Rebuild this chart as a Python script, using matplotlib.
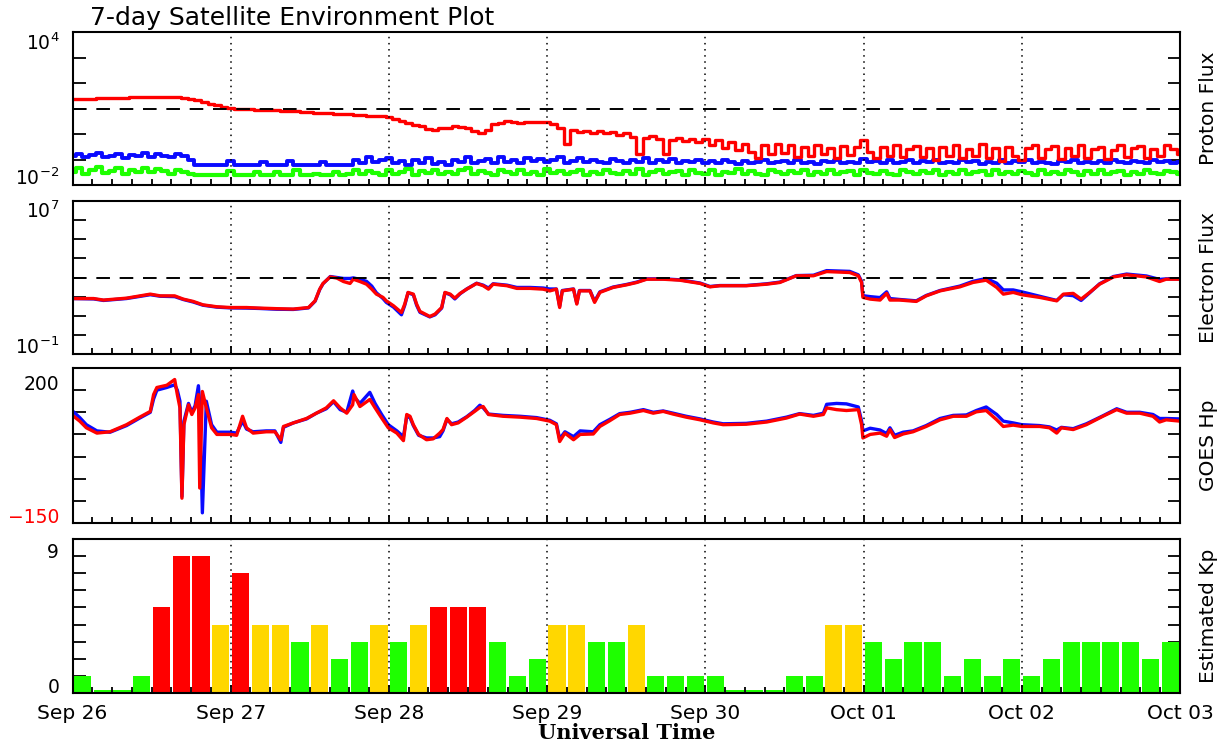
import numpy as np
import matplotlib
matplotlib.use("Agg")
import matplotlib.pyplot as plt
from matplotlib.ticker import MultipleLocator, FixedLocator, NullLocator

# ------------------------------------------------------------------
# data (hours since Sep 26 00 UT)
# ------------------------------------------------------------------
day_labels = ["Sep 26", "Sep 27", "Sep 28", "Sep 29", "Sep 30",
              "Oct 01", "Oct 02", "Oct 03"]

# proton flux, log10(pfu), hourly
p_red_log = [1.36, 1.37, 1.38, 1.38, 1.40, 1.41, 1.42, 1.41, 1.43, 1.44, 1.45, 1.44,
             1.46, 1.47, 1.45, 1.46, 1.44, 1.42, 1.38, 1.33, 1.25, 1.18, 1.12, 1.06,
             1.02, 1.00, 0.99, 0.97, 0.96, 0.95, 0.93, 0.94, 0.91, 0.90, 0.89, 0.87,
             0.86, 0.84, 0.83, 0.82, 0.80, 0.79, 0.77, 0.76, 0.74, 0.72, 0.71, 0.70,
             0.68, 0.58, 0.50, 0.44, 0.36, 0.30, 0.20, 0.16, 0.22, 0.25, 0.30, 0.28,
             0.22, 0.12, 0.05, 0.15, 0.38, 0.45, 0.50, 0.46, 0.44, 0.48, 0.46, 0.49,
             0.47, 0.40, 0.22, -0.40, 0.15, 0.08, 0.12, 0.05, 0.10, 0.02, 0.08, -0.02,
             0.05, -0.10, -0.80, -0.15, -0.08, -0.20, -0.80, -0.22, -0.15, -0.28, -0.20, -0.30,
             -0.18, -0.45, -0.25, -0.55, -0.30, -0.62, -0.40, -0.70, -0.95, -0.45, -0.78, -0.40,
             -0.75, -0.45, -0.90, -0.50, -0.85, -0.42, -0.80, -0.55, -0.95, -0.48, -0.82, -0.52,
             -0.25, -0.70, -0.95, -0.50, -0.88, -0.45, -0.92, -0.60, -0.48, -0.90, -0.55, -1.00,
             -0.50, -0.85, -0.45, -0.95, -0.58, -0.88, -0.40, -0.95, -0.55, -1.05, -0.50, -0.85,
             -1.00, -0.55, -0.45, -0.95, -0.60, -0.48, -0.98, -0.55, -0.88, -0.45, -0.95, -0.60,
             -0.50, -0.98, -0.62, -0.45, -0.92, -0.55, -0.48, -0.95, -0.58, -0.85, -0.45, -0.60,
             -0.80]
p_blue_log = [-0.88, -0.78, -0.92, -0.82, -0.75, -0.90, -0.85, -0.78, -0.95, -0.82, -0.88, -0.76,
              -0.90, -0.80, -0.86, -0.92, -0.78, -0.88, -1.00, -1.22, -1.22, -1.20, -1.22, -1.22,
              -1.05, -1.22, -1.22, -1.20, -1.22, -1.08, -1.22, -1.22, -1.22, -1.05, -1.22, -1.20,
              -1.22, -1.22, -1.10, -1.22, -1.22, -1.20, -1.22, -1.00, -1.15, -0.92, -1.10, -1.02,
              -0.95, -1.12, -1.05, -1.20, -1.00, -1.15, -0.95, -1.18, -1.08, -1.20, -1.02, -1.10,
              -0.90, -1.12, -1.05, -0.98, -1.15, -0.92, -1.08, -1.00, -1.12, -0.95, -1.05, -0.98,
              -1.10, -1.02, -0.92, -1.15, -1.05, -0.95, -1.10, -1.00, -1.08, -1.12, -0.98, -1.05,
              -1.15, -1.00, -1.08, -0.95, -1.12, -1.02, -1.10, -0.98, -1.15, -1.05, -1.08, -1.00,
              -1.12, -1.05, -1.15, -1.02, -1.10, -1.18, -1.05, -1.12, -1.08, -1.00, -1.15, -1.10,
              -1.05, -1.15, -1.02, -1.12, -1.08, -1.18, -1.05, -1.10, -1.00, -1.15, -1.08, -1.12,
              -0.98, -1.10, -1.05, -1.15, -1.02, -1.12, -1.08, -1.00, -1.15, -1.05, -1.10, -1.02,
              -1.12, -1.08, -1.15, -1.02, -1.10, -1.05, -1.18, -1.08, -1.12, -1.00, -1.15, -1.05,
              -1.10, -1.02, -1.15, -1.08, -1.12, -1.18, -1.05, -1.10, -1.00, -1.12, -1.08, -1.15,
              -1.05, -1.12, -1.02, -1.10, -1.15, -1.05, -1.08, -1.12, -1.00, -1.10, -1.05, -1.12,
              -1.08]
p_green_log = [-1.50, -1.35, -1.55, -1.40, -1.30, -1.52, -1.45, -1.32, -1.55, -1.42, -1.48, -1.35,
               -1.50, -1.38, -1.45, -1.55, -1.40, -1.48, -1.58, -1.62, -1.62, -1.62, -1.60, -1.62,
               -1.45, -1.62, -1.62, -1.62, -1.50, -1.62, -1.62, -1.48, -1.62, -1.62, -1.42, -1.62,
               -1.62, -1.55, -1.62, -1.62, -1.50, -1.62, -1.55, -1.40, -1.58, -1.45, -1.52, -1.60,
               -1.42, -1.55, -1.48, -1.38, -1.60, -1.45, -1.52, -1.40, -1.58, -1.48, -1.55, -1.42,
               -1.35, -1.58, -1.45, -1.52, -1.62, -1.40, -1.50, -1.58, -1.42, -1.55, -1.48, -1.60,
               -1.38, -1.52, -1.45, -1.58, -1.50, -1.42, -1.60, -1.48, -1.55, -1.40, -1.52, -1.58,
               -1.45, -1.55, -1.38, -1.60, -1.48, -1.42, -1.58, -1.50, -1.45, -1.62, -1.40, -1.52,
               -1.55, -1.42, -1.60, -1.48, -1.52, -1.38, -1.58, -1.45, -1.55, -1.62, -1.42, -1.50,
               -1.58, -1.45, -1.52, -1.40, -1.60, -1.48, -1.55, -1.42, -1.58, -1.50, -1.45, -1.62,
               -1.40, -1.52, -1.58, -1.45, -1.55, -1.62, -1.42, -1.50, -1.58, -1.45, -1.52, -1.40,
               -1.60, -1.48, -1.55, -1.42, -1.58, -1.50, -1.45, -1.62, -1.40, -1.55, -1.48, -1.58,
               -1.45, -1.52, -1.62, -1.40, -1.55, -1.48, -1.58, -1.42, -1.50, -1.60, -1.45, -1.55,
               -1.42, -1.58, -1.50, -1.45, -1.60, -1.48, -1.55, -1.40, -1.52, -1.58, -1.45, -1.50,
               -1.55]

# electron flux, log10(pfu)
e_hours = [0.0, 3.2, 4.7, 8.2, 11.8, 13.3, 15.5, 16.8, 18.3, 19.8,
           21.9, 24.0, 26.4, 28.4, 31.0, 33.5, 35.8, 36.8, 37.5, 38.0,
           39.1, 40.1, 41.1, 42.1, 42.6, 43.6, 44.6, 45.4, 46.1, 47.1,
           47.6, 48.7, 49.9, 50.4, 50.9, 51.7, 52.2, 52.7, 54.2, 55.0,
           56.0, 56.5, 57.3, 58.0, 58.8, 59.8, 61.3, 62.3, 63.1, 63.8,
           65.9, 67.4, 69.4, 71.4, 72.4, 73.4, 73.9, 74.3, 76.0, 76.5,
           76.9, 78.5, 79.2, 80.0, 82.0, 84.1, 85.6, 87.1, 89.6, 92.1,
           95.2, 96.7, 98.2, 102.2, 105.3, 107.3, 109.8, 112.4, 114.4, 117.9,
           119.2, 119.7, 119.9, 121.0, 122.5, 123.5, 124.0, 125.5, 128.0, 129.5,
           131.6, 134.6, 136.6, 138.6, 140.2, 141.2, 142.7, 144.0, 146.7, 149.3,
           150.3, 151.8, 153.0, 154.3, 155.8, 157.9, 159.9, 162.9, 164.9, 165.9,
           168.0]
e_red_log = [1.90, 1.90, 1.82, 1.92, 2.13, 2.04, 2.04, 1.87, 1.75, 1.57,
             1.47, 1.43, 1.43, 1.40, 1.37, 1.35, 1.43, 1.78, 2.39, 2.69,
             3.03, 2.97, 2.79, 2.69, 2.91, 2.79, 2.65, 2.39, 2.13, 1.96,
             1.78, 1.52, 1.17, 1.61, 2.22, 2.13, 1.61, 1.23, 0.96, 1.09,
             1.43, 2.22, 2.13, 1.92, 2.17, 2.39, 2.69, 2.57, 2.39, 2.65,
             2.57, 2.43, 2.43, 2.39, 2.30, 2.39, 1.43, 2.30, 2.39, 1.61,
             2.30, 2.30, 1.70, 2.22, 2.48, 2.62, 2.74, 2.91, 2.91, 2.86,
             2.69, 2.51, 2.57, 2.57, 2.65, 2.74, 3.09, 3.09, 3.31, 3.26,
             3.09, 2.74, 1.96, 1.87, 1.82, 2.17, 1.82, 1.82, 1.75, 2.04,
             2.30, 2.51, 2.74, 2.86, 2.48, 2.13, 2.22, 2.10, 1.96, 1.78,
             2.13, 2.17, 1.87, 2.22, 2.65, 3.03, 3.14, 3.03, 2.79, 2.91,
             2.91]
e_blue_log = [1.90, 1.88, 1.80, 1.90, 2.10, 2.02, 2.00, 1.85, 1.72, 1.55,
              1.45, 1.41, 1.40, 1.38, 1.34, 1.33, 1.41, 1.76, 2.37, 2.67,
              3.05, 3.00, 2.95, 2.95, 2.98, 2.90, 2.80, 2.55, 2.20, 1.90,
              1.70, 1.45, 1.05, 1.55, 2.20, 2.10, 1.55, 1.18, 0.94, 1.05,
              1.40, 2.20, 2.10, 1.88, 2.15, 2.40, 2.70, 2.60, 2.45, 2.67,
              2.60, 2.48, 2.48, 2.45, 2.40, 2.40, 1.50, 2.32, 2.40, 1.65,
              2.32, 2.32, 1.75, 2.25, 2.50, 2.64, 2.76, 2.93, 2.93, 2.88,
              2.71, 2.53, 2.58, 2.58, 2.67, 2.76, 3.10, 3.12, 3.36, 3.32,
              3.14, 2.80, 2.05, 2.00, 1.95, 2.25, 1.90, 1.85, 1.78, 2.06,
              2.32, 2.55, 2.80, 2.95, 2.70, 2.35, 2.35, 2.25, 2.02, 1.80,
              2.10, 2.05, 1.80, 2.20, 2.67, 3.05, 3.18, 3.08, 2.90, 2.93,
              2.93]

# GOES Hp (nT)
hp_hours = [0.0, 1.1, 2.1, 3.7, 5.7, 8.2, 10.2, 11.8, 12.3, 12.8,
            14.3, 15.5, 15.9, 16.3, 16.6, 16.9, 17.6, 18.1, 18.6, 19.1,
            19.3, 19.7, 20.3, 21.1, 21.9, 24.0, 24.9, 25.8, 26.4, 27.4,
            29.4, 30.7, 31.6, 32.0, 33.5, 35.5, 37.0, 38.5, 39.6, 40.6,
            41.6, 42.5, 42.7, 43.6, 45.1, 45.9, 46.9, 47.9, 49.2, 50.2,
            50.7, 51.2, 51.7, 52.5, 53.7, 54.7, 55.7, 56.2, 56.8, 57.5,
            58.5, 59.8, 61.0, 61.8, 62.3, 63.1, 65.3, 67.9, 70.4, 72.4,
            73.4, 73.9, 74.7, 76.0, 77.0, 79.0, 80.0, 81.5, 83.0, 84.6,
            86.6, 88.1, 89.6, 91.1, 93.1, 95.2, 97.2, 98.7, 102.2, 105.3,
            108.3, 110.3, 112.4, 113.9, 114.4, 115.9, 117.4, 119.2, 119.7, 119.9,
            121.0, 122.5, 123.5, 124.0, 124.7, 126.0, 127.5, 129.5, 131.6, 133.6,
            135.6, 137.1, 138.6, 140.2, 141.2, 142.7, 144.0, 146.7, 148.2, 149.3,
            150.0, 151.8, 153.8, 156.3, 158.4, 159.9, 161.9, 163.9, 164.9, 165.9,
            168.0]
hp_red = [93, 80, 65, 53, 56, 72, 89, 102, 140, 156,
          161, 174, 140, 110, -94, 72, 117, 95, 110, 140,
          -71, 147, 110, 65, 50, 50, 48, 91, 65, 53,
          56, 56, 38, 68, 76, 86, 98, 110, 126, 110,
          98, 117, 140, 113, 129, 110, 87, 65, 53, 36,
          95, 91, 72, 50, 38, 40, 53, 61, 86, 72,
          76, 89, 102, 111, 113, 95, 91, 89, 86, 80,
          72, 34, 53, 38, 50, 51, 68, 81, 95, 98,
          104, 98, 102, 96, 89, 83, 76, 72, 73, 78,
          87, 96, 91, 95, 110, 106, 104, 106, 72, 42,
          50, 53, 46, 61, 43, 51, 56, 68, 83, 91,
          91, 101, 104, 83, 68, 71, 68, 68, 65, 53,
          65, 61, 72, 91, 106, 98, 98, 91, 78, 83,
          80]
hp_blue = [103, 88, 72, 58, 55, 70, 87, 100, 130, 150,
           156, 162, 150, 125, -90, 80, 120, 100, 115, 160,
           120, -127, 125, 72, 55, 55, 53, 80, 62, 56,
           58, 58, 32, 66, 76, 85, 98, 108, 124, 106,
           100, 148, 135, 120, 145, 120, 95, 72, 58, 45,
           90, 88, 70, 48, 42, 42, 45, 58, 84, 74,
           78, 90, 104, 116, 110, 96, 93, 91, 88, 82,
           74, 40, 56, 45, 58, 56, 72, 84, 97, 100,
           106, 100, 103, 98, 91, 85, 78, 74, 75, 80,
           89, 97, 93, 98, 118, 120, 119, 112, 80, 58,
           64, 60, 52, 65, 48, 55, 58, 70, 86, 93,
           94, 104, 112, 95, 80, 76, 72, 70, 67, 60,
           66, 63, 74, 92, 108, 100, 100, 95, 86, 86,
           85]

# estimated Kp, 3-hourly
kp = [1, 0.2, 0.2, 1, 5, 8, 8, 4,
      7, 4, 4, 3, 4, 2, 3, 4,
      3, 4, 5, 5, 5, 3, 1, 2,
      4, 4, 3, 3, 4, 1, 1, 1,
      1, 0.2, 0.2, 0.2, 1, 1, 4, 4,
      3, 2, 3, 3, 1, 2, 1, 2,
      1, 2, 3, 3, 3, 3, 2, 3]

# ------------------------------------------------------------------
RED = "#ff0000"
BLUE = "#0a0aff"
GREEN = "#1eff00"
YELLOW = "#ffd700"

W_PX, H_PX = 1225, 743
fig = plt.figure(figsize=(W_PX / 100, H_PX / 100), dpi=100)
X0, X1 = 72.5, 1180.0


def px_axes(top, bottom):
    return fig.add_axes([X0 / W_PX, 1 - bottom / H_PX,
                         (X1 - X0) / W_PX, (bottom - top) / H_PX])


def style(ax):
    ax.set_xlim(0, 168)
    ax.xaxis.set_major_locator(MultipleLocator(24))
    ax.xaxis.set_minor_locator(MultipleLocator(3))
    ax.tick_params(axis="x", which="both", direction="in", top=False,
                   labelbottom=False, width=1.3)
    ax.tick_params(axis="x", which="major", length=6)
    ax.tick_params(axis="x", which="minor", length=4)
    ax.tick_params(axis="y", which="major", direction="in", left=True,
                   right=True, labelleft=False, length=9, width=1.3)
    for s in ax.spines.values():
        s.set_linewidth(1.5)
    for d in range(24, 168, 24):
        ax.axvline(d, color="k", ls=(0, (1, 3)), lw=1.1, zorder=5)


def side_labels(ax, top_txt, bot_txt, right_txt, top_y=1.0, bot_color="k"):
    ax.text(-0.012, top_y, top_txt, transform=ax.transAxes, ha="right",
            va="top", fontsize=13.5)
    ax.text(-0.012, 0.0, bot_txt, transform=ax.transAxes, ha="right",
            va="baseline", fontsize=13.5, color=bot_color)
    ax.text(1.026, 0.5, right_txt, transform=ax.transAxes, ha="center",
            va="center", rotation=90, fontsize=14.5)


# --- proton flux ---
ax1 = px_axes(32, 185)
p_hours = np.arange(len(p_red_log))
ax1.set_yscale("log")
ax1.set_ylim(1e-2, 1e4)
ax1.yaxis.set_major_locator(FixedLocator(10.0 ** np.arange(-2, 5)))
ax1.yaxis.set_minor_locator(NullLocator())
ax1.plot(p_hours, 10 ** np.array(p_blue_log), color=BLUE, lw=2.8,
         drawstyle="steps-mid")
ax1.plot(p_hours, 10 ** np.array(p_green_log), color=GREEN, lw=3.0,
         drawstyle="steps-mid")
ax1.plot(p_hours, 10 ** np.array(p_red_log), color=RED, lw=2.4,
         drawstyle="steps-mid")
ax1.axhline(10, color="k", ls=(0, (7, 5)), lw=1.4, zorder=4)
style(ax1)
side_labels(ax1, r"$10^{4}$", r"$10^{-2}$", "Proton Flux")

# --- electron flux ---
ax2 = px_axes(201, 354)
ax2.set_yscale("log")
ax2.set_ylim(1e-1, 1e7)
ax2.yaxis.set_major_locator(FixedLocator(10.0 ** np.arange(-1, 8)))
ax2.yaxis.set_minor_locator(NullLocator())
ax2.plot(e_hours, 10 ** np.array(e_blue_log), color=BLUE, lw=2.4)
ax2.plot(e_hours, 10 ** np.array(e_red_log), color=RED, lw=2.4)
ax2.axhline(1000, color="k", ls=(0, (7, 5)), lw=1.4, zorder=4)
style(ax2)
side_labels(ax2, r"$10^{7}$", r"$10^{-1}$", "Electron Flux")

# --- GOES Hp ---
ax3 = px_axes(368, 523)
ax3.set_ylim(-150, 200)
ax3.yaxis.set_major_locator(MultipleLocator(50))
ax3.plot(hp_hours, hp_blue, color=BLUE, lw=2.4)
ax3.plot(hp_hours, hp_red, color=RED, lw=2.4)
style(ax3)
side_labels(ax3, "200", "\u2212150", "GOES Hp", top_y=0.955, bot_color=RED)

# --- Estimated Kp ---
ax4 = px_axes(539, 693)
kp_hours = np.arange(len(kp)) * 3 + 1.5
kp_colors = [RED if v >= 5 else YELLOW if v >= 4 else GREEN for v in kp]
ax4.bar(kp_hours, kp, width=2.6, color=kp_colors, linewidth=0, zorder=2)
ax4.set_ylim(0, 9)
ax4.yaxis.set_major_locator(MultipleLocator(1))
style(ax4)
ax4.set_xticks(range(0, 169, 24))
ax4.set_xticklabels(day_labels, fontsize=14.5)
ax4.tick_params(axis="x", labelbottom=True, pad=8)
side_labels(ax4, "9", "0", "Estimated Kp", top_y=0.975)

fig.text(90 / W_PX, 1 - 18 / H_PX, "7-day Satellite Environment Plot",
         ha="left", va="center", fontsize=18)
fig.text(627 / W_PX, 1 - 733 / H_PX, "Universal Time", ha="center",
         va="center", fontsize=15, fontweight="bold", family="DejaVu Serif")

fig.savefig("out.png", dpi=100)
